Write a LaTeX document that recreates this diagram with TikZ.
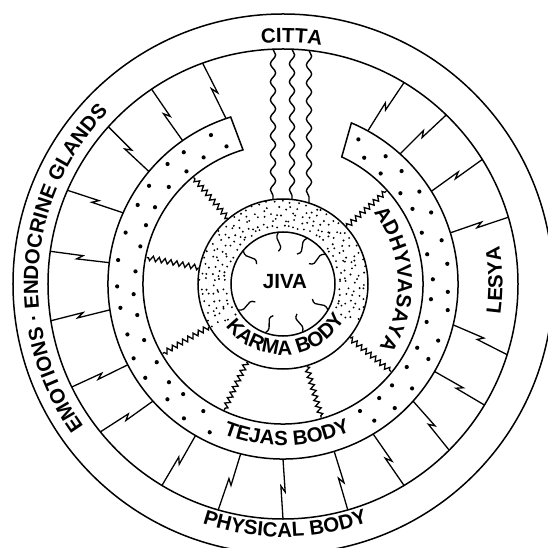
\documentclass[tikz,border=0pt]{standalone}
\usepackage{fontspec}
\newfontfamily\lblfont{Liberation Sans}
\usetikzlibrary{decorations.text,decorations.pathmorphing}
\newcommand\lbl{\lblfont\bfseries\fontsize{20.5}{24}\selectfont}

\tikzset{
  ring/.style={line width=1.5pt},
  spoke/.style={line width=1.3pt, line join=miter},
  wiggle/.style={line width=1.3pt, decorate, decoration={zigzag, amplitude=2.5pt, segment length=6pt}},
  wavy/.style={line width=1.4pt, decorate, decoration={snake, amplitude=2.6pt, segment length=18pt}},
  curved label/.style={decorate, decoration={text along path, text align=center, text={|\lbl|#1}}}
}

\begin{document}
\begin{tikzpicture}[x=1pt,y=1pt]
\useasboundingbox (-283,-264) rectangle (265,284);
\clip (-283,-264) rectangle (265,284);
% circles
\draw[ring] (0,0) circle (270);
\draw[ring] (0,0) circle (235);
\draw[ring] (0,0) circle (85);
\draw[ring] (0,0) circle (52);
% tejas band, open at the top
\draw[ring] (107.4:175) arc (107.4:427:175) -- (65.2:140) arc (65.2:-253.4:140) -- cycle;
% spokes with a kink
\foreach \a/\b in {110/109,124/125,138/140,156.5/156,172/173,189/188.5,206/207.5,219/222,239/240,254/256,270/270,286/287,301/301,315/318,329/330,342.5/346.5,16.5/17,32/32,46/48,59/61}
  \draw[spoke] (\a:235) -- ({\a+0.54*(\b-\a)-0.6}:202) -- ({\a+0.46*(\b-\a)+0.6}:208) -- (\b:175);
% dots of the tejas body
\pgfmathsetseed{7}
\foreach \a in {112,121,...,245,300,309,...,420}{
  \pgfmathsetmacro\ri{149+2*rand}
  \pgfmathsetmacro\ro{165+2*rand}
  \fill ({\a+1.5*rand}:\ri) circle (2.1);
  \fill ({\a+4.5+1.5*rand}:\ro) circle (2.1);}
% grain of the karma body
\foreach \r in {58,64,...,82}
  \foreach \a in {-26,-20.5,...,214}{
    \pgfmathsetmacro\rg{\r+2*rand}
    \fill ({\a+2.5*rand}:\rg) circle (1.05);}
% links from karma body to tejas body
\foreach \a in {42,130,169,210,245,286,321}
  \draw[wiggle] (\a:86) -- (\a:139);
% citta lines
\foreach \x/\t/\u in {-10/234.8/84.4,9/234.8/84.5,26/233.6/80.9}
  \draw[wavy] (\x,\t) -- (\x,\u);
% jiva rays
\foreach \a in {95,62,140,35,210,330,250,292}
  \draw[spoke] (\a:52) .. controls ({\a+9}:44) and ({\a-9}:40) .. ({\a+3}:33);
% labels
\path[curved label=CITTA] (118:241.5) arc (118:58:241.5);
\path[curved label={EMOTIONS · ENDOCRINE GLANDS}] (230:245) arc (230:121:245);
\path[curved label={PHYSICAL BODY}] (235:253) arc (235:306:253);
\path[curved label={TEJAS BODY}] (236:161.5) arc (236:307:161.5);
\path[curved label={KARMA BODY}] (190:71) arc (190:356:71);
\path[curved label=ADHYVASAYA] (55:115) arc (55:-50:115);
\path[curved label=LESYA] (-25:219.5) arc (-25:27:219.5);
\node[font=\lbl] (jiva) at (2,2) {JIVA};
\end{tikzpicture}
\end{document}
